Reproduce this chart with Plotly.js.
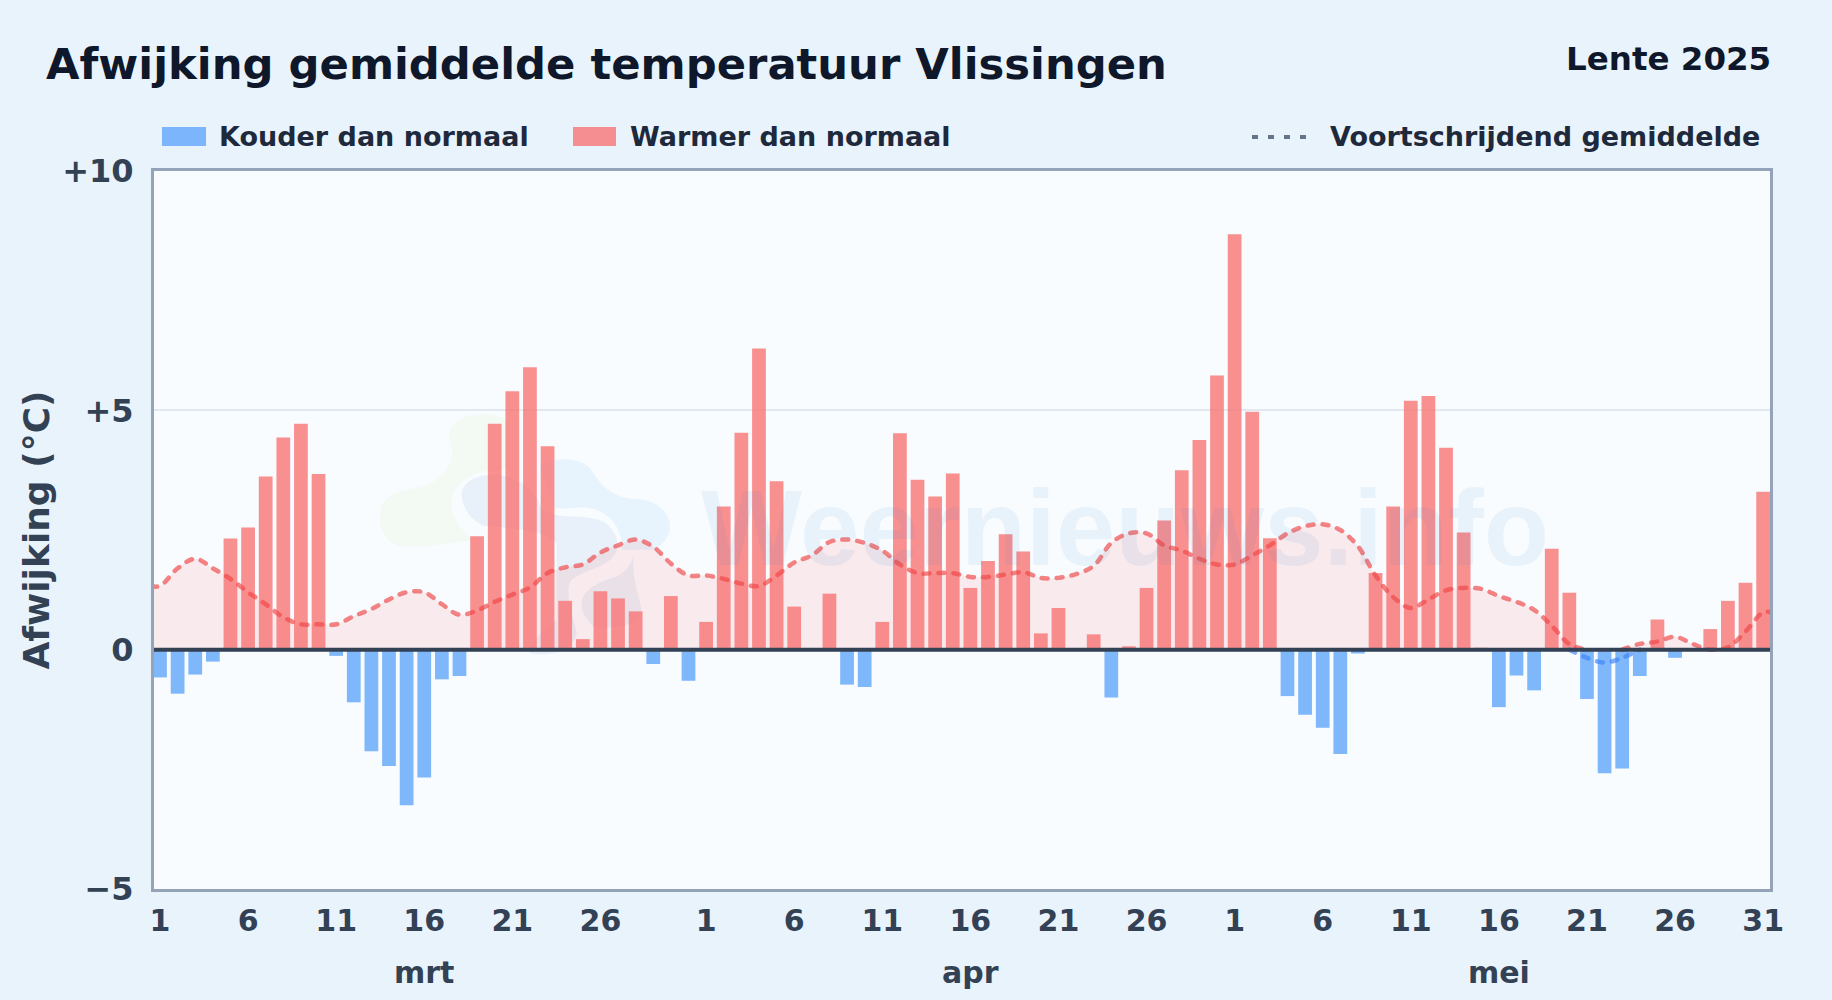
<!DOCTYPE html>
<html>
<head>
<meta charset="utf-8">
<script src="https://cdn.plot.ly/plotly-3.0.1.min.js"></script>
<style>html,body{margin:0;padding:0;background:#e9f3fc;overflow:hidden}</style>
</head>
<body>
<div id="chart" style="width:1832px;height:1000px"></div>
<script>
// Chart values
const marchDeviation = [-0.58,-0.92,-0.52,-0.25,2.32,2.55,3.62,4.43,4.72,3.67,-0.13,-1.1,-2.12,-2.43,-3.25,-2.67,-0.62,-0.55,2.37,4.72,5.4,5.9,4.25,1.02,0.22,1.22,1.07,0.8,-0.3,1.12,-0.65];
const aprilDeviation = [0.58,2.99,4.53,6.29,3.52,0.9,0,1.17,-0.73,-0.78,0.58,4.52,3.55,3.2,3.68,1.29,1.85,2.41,2.05,0.34,0.87,0,0.32,-1.0,0.07,1.29,2.7,3.75,4.38,5.73];
const mayDeviation = [8.68,4.97,2.33,-0.97,-1.36,-1.63,-2.18,-0.08,1.6,2.99,5.2,5.3,4.22,2.45,0.04,-1.2,-0.54,-0.85,2.11,1.19,-1.03,-2.58,-2.48,-0.55,0.63,-0.17,0,0.43,1.02,1.4,3.3];
const marchRolling = [1.33,1.7,1.9,1.7,1.48,1.2,0.95,0.68,0.53,0.53,0.53,0.7,0.85,1.05,1.2,1.2,0.95,0.73,0.82,1.0,1.15,1.3,1.6,1.72,1.78,2.03,2.18,2.3,2.15,1.8,1.55];
const aprilRolling = [1.55,1.48,1.38,1.33,1.55,1.82,1.97,2.25,2.3,2.23,2.07,1.78,1.6,1.6,1.6,1.52,1.52,1.57,1.62,1.5,1.5,1.58,1.75,2.23,2.43,2.43,2.18,2.07,1.9,1.78];
const mayRolling = [1.78,1.97,2.18,2.43,2.58,2.62,2.5,2.16,1.55,1.1,0.87,1.05,1.24,1.29,1.27,1.12,1.0,0.83,0.5,0.12,-0.17,-0.27,-0.17,0.12,0.17,0.27,0.12,0.0,0.05,0.38,0.78];
const monthNames = ['mrt','apr','mei'];
const monthDays = [31,30,31];
const monthLabelDay = [15,15,15];
const tickDays = [1,6,11,16,21,26];
const yTickValues = [-5,0,5,10];
const yTickLabels = ['\u22125','0','+5','+10'];

const deviation = marchDeviation.concat(aprilDeviation, mayDeviation);
const rolling = marchRolling.concat(aprilRolling, mayRolling);
const index = deviation.map((_, i) => i);

// x ticks per month
const tickVals = [], tickText = [], monthCenters = [];
let offset = 0;
monthDays.forEach((n, m) => {
  tickDays.concat(n === 31 && m === 2 ? [31] : []).forEach(d => { tickVals.push(offset + d - 1); tickText.push(String(d)); });
  monthCenters.push(offset + monthLabelDay[m]);
  offset += n;
});

const warmLine = rolling.map((v, i) => v >= 0 ? v : ((rolling[i-1] >= 0 || rolling[i+1] >= 0) ? 0 : null));
const coolLine = rolling.map((v, i) => v < 0 ? v : ((rolling[i-1] < 0 || rolling[i+1] < 0) ? 0 : null));
// the curve runs on to the frame at both ends
const lineX = [-0.5].concat(index, [index.length - 0.5]);
const warmY = [warmLine[0]].concat(warmLine, [warmLine[warmLine.length - 1]]);
const coolY = [null].concat(coolLine, [null]);

// page pixel -> paper helpers
const W = 1832, H = 1000, L = 154, R = 62, T = 171, B = 110.5;
const px = x => (x - L) / (W - L - R);
const py = y => 1 - (y - T) / (H - T - B);

const font = 'DejaVu Sans, sans-serif';
const label = (text, x, y, size, color, xanchor) => ({
  text: '<b>' + text + '</b>', xref: 'paper', yref: 'paper', x: px(x), y: py(y),
  xanchor: xanchor || 'left', yanchor: 'middle', showarrow: false,
  font: {family: font, size: size, color: color}
});

const logoSvg = `<svg xmlns="http://www.w3.org/2000/svg" viewBox="0 0 1020 810" width="1020" height="810">
<path fill="#d3e8a0" fill-opacity="0.13" d="M268,100 C270,60 330,40 390,45 C420,48 440,55 450,70 L450,210 C380,205 310,220 278,285 C262,340 300,395 345,420 C260,432 200,445 130,440 C80,435 55,385 60,340 C65,290 110,275 170,265 C230,255 270,210 275,170 C280,140 265,125 268,100 Z"/>
<path fill="#a5d8fa" fill-opacity="0.2" d="M540,200 C570,175 650,165 690,205 C720,250 750,295 830,298 C890,300 930,340 930,380 C930,410 905,440 880,450 L785,450 C790,400 760,340 690,325 C650,320 620,330 585,325 Z"/>
<path fill="#7ea6d8" fill-opacity="0.13" d="M305,280 C310,245 350,225 400,225 C470,225 530,270 545,330 L585,345 C620,355 680,345 730,365 C770,390 785,440 760,470 C725,510 665,510 630,545 C615,590 640,650 650,700 C645,750 570,775 510,760 C495,745 540,700 590,660 L590,430 C560,395 470,385 370,378 C330,360 305,320 305,280 Z"/>
<path fill="#7ea6d8" fill-opacity="0.13" d="M665,620 C660,570 720,545 770,530 C800,515 815,490 820,470 C815,550 845,600 845,640 C830,680 760,690 700,680 C680,660 665,640 665,620 Z"/>
</svg>`;

const data = [
  {type:'scatter', mode:'lines', name:'Voortschrijdend gemiddelde', x:lineX, y:warmY, line:{shape:'spline', smoothing:1, color:'rgba(239,68,68,0.65)', width:4.5, dash:'6px,9px'}, fill:'tozeroy', fillcolor:'rgba(248,113,113,0.13)', hoverinfo:'skip', showlegend:false, connectgaps:false},
  {type:'scatter', mode:'lines', name:'Voortschrijdend gemiddelde (negatief)', x:lineX, y:coolY, line:{shape:'spline', smoothing:1, color:'rgba(59,130,246,0.65)', width:4.5, dash:'6px,9px'}, hoverinfo:'skip', showlegend:false, connectgaps:false},
  {type:'bar', name:'Kouder dan normaal', x:index, y:deviation.map(v => v < 0 ? v : null), width:0.78, marker:{color:'rgba(96,165,250,0.8)', line:{width:0}}, showlegend:false},
  {type:'bar', name:'Warmer dan normaal', x:index, y:deviation.map(v => v >= 0 ? v : null), width:0.78, marker:{color:'rgba(248,113,113,0.78)', line:{width:0}}, showlegend:false}
];

const annotations = [
  label('Afwijking gemiddelde temperatuur Vlissingen', 44, 64, 43.3, '#0f172a'),
  label('Lente 2025', 1773, 59, 32.5, '#0f172a', 'right'),
  label('Kouder dan normaal', 217, 136, 27, '#1e293b'),
  label('Warmer dan normaal', 628, 136, 27, '#1e293b'),
  label('Voortschrijdend gemiddelde', 1328, 136, 27, '#1e293b'),
  {text:'Weernieuws.info', xref:'paper', yref:'paper', x:px(1124.5), y:py(528), xanchor:'center', yanchor:'middle', showarrow:false, font:{family:'Liberation Sans, sans-serif', size:107, color:'rgba(50,125,200,0.08)', weight:700}}
];
monthNames.forEach((m, i) => annotations.push({
  text:'<b>' + m + '</b>', xref:'x', yref:'paper', x:monthCenters[i], y:py(973), xanchor:'center', yanchor:'middle', showarrow:false,
  font:{family:font, size:30, color:'#334155'}
}));

const shapes = [
  {type:'rect', xref:'paper', yref:'paper', x0:px(162), x1:px(206), y0:py(127), y1:py(146), fillcolor:'rgba(96,165,250,0.8)', line:{width:0}},
  {type:'rect', xref:'paper', yref:'paper', x0:px(573), x1:px(616), y0:py(127), y1:py(146), fillcolor:'rgba(248,113,113,0.78)', line:{width:0}},
  {type:'line', xref:'paper', yref:'paper', x0:px(1252), x1:px(1308), y0:py(137), y1:py(137), line:{color:'#64748b', width:4, dash:'6px,10px'}},
  {type:'line', xref:'paper', yref:'y', x0:0, x1:1, y0:0, y1:0, layer:'above', line:{color:'#334155', width:4}}
];

const layout = {
  width:W, height:H, autosize:false,
  margin:{l:L, r:R, t:T, b:B, pad:0},
  paper_bgcolor:'#e9f3fc', plot_bgcolor:'#f8fcff',
  font:{family:font},
  barmode:'overlay',
  title:{text:'', x:0},
  xaxis:{range:[-0.34, 91.39], tickmode:'array', tickvals:tickVals, ticktext:tickText, ticks:'', showgrid:false, zeroline:false,
    showline:true, mirror:true, linecolor:'#94a3b8', linewidth:3, tickfont:{family:font, size:30, color:'#334155', weight:700}, ticklabelstandoff:3, fixedrange:true},
  yaxis:{range:[-5,10], tickmode:'array', tickvals:yTickValues, ticktext:yTickLabels, ticks:'', showgrid:true, gridcolor:'#e2e8f0', gridwidth:2, zeroline:false,
    showline:true, mirror:true, linecolor:'#94a3b8', linewidth:3, tickfont:{family:font, size:32, color:'#334155', weight:700}, ticklabelstandoff:11, fixedrange:true,
    title:{text:'<b>Afwijking (\u00b0C)</b>', font:{family:font, size:36, color:'#334155'}, standoff:2}},
  images:[{source:'data:image/svg+xml;charset=utf-8,' + encodeURIComponent(logoSvg), xref:'paper', yref:'paper', x:px(360), y:py(400), sizex:340/(W-L-R), sizey:270/(H-T-B), xanchor:'left', yanchor:'top', sizing:'stretch', layer:'below'}],
  annotations, shapes, showlegend:false
};
Plotly.newPlot('chart', data, layout, {displayModeBar:false, staticPlot:true}).then(() => {
  document.querySelectorAll('.scatterlayer .js-line').forEach(p => { p.style.strokeLinecap = 'round'; });
});
</script>
</body>
</html>
